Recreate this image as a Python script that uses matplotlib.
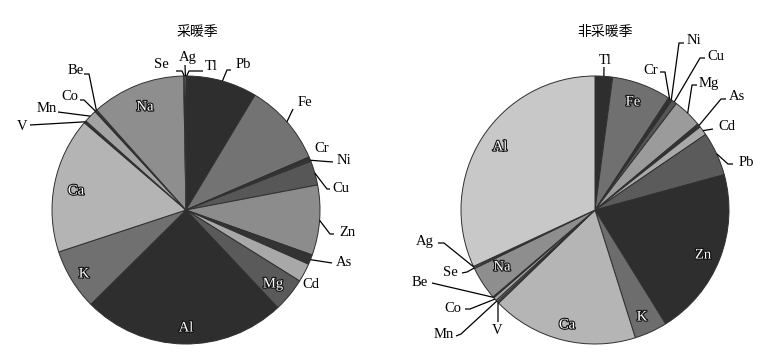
import matplotlib.pyplot as plt
import matplotlib.patheffects as pe
import numpy as np


# share of each element (%), listed clockwise from 12 o'clock
HEATING_ELEMENTS = ["Tl", "Pb", "Fe", "Cr", "Ni", "Cu", "Zn", "As", "Cd", "Mg",
                    "Al", "K", "Ca", "V", "Mn", "Co", "Be", "Na", "Se", "Ag"]
HEATING_SHARES = [0.14, 8.47, 9.92, 0.28, 0.28, 2.92, 8.44, 1.19, 2.25, 4.11,
                  24.58, 7.36, 16.36, 0.28, 1.56, 0.14, 0.14, 11.31, 0.14, 0.14]
HEATING_COLORS = ["#2e2e2e", "#2e2e2e", "#737373", "#333333", "#3a3a3a", "#575757",
                  "#8c8c8c", "#333333", "#a8a8a8", "#5a5a5a", "#2e2e2e", "#707070",
                  "#b4b4b4", "#333333", "#a3a3a3", "#555555", "#888888", "#8e8e8e",
                  "#cccccc", "#e0e0e0"]

NON_HEATING_ELEMENTS = ["Tl", "Fe", "Cr", "Ni", "Cu", "Mg", "As", "Cd", "Pb", "Zn",
                        "K", "Ca", "V", "Mn", "Co", "Be", "Na", "Se", "Ag", "Al"]
NON_HEATING_SHARES = [2.11, 7.14, 0.28, 0.22, 0.64, 3.53, 0.44, 1.11, 5.28, 20.42,
                      3.97, 17.64, 0.22, 0.22, 0.42, 0.14, 4.03, 0.14, 0.14, 31.92]
NON_HEATING_COLORS = ["#2e2e2e", "#707070", "#333333", "#2e2e2e", "#555555", "#9b9b9b",
                      "#333333", "#a9a9a9", "#5b5b5b", "#2e2e2e", "#6d6d6d", "#b5b5b5",
                      "#555555", "#777777", "#a3a3a3", "#333333", "#8e8e8e", "#d0d0d0",
                      "#e0e0e0", "#c8c8c8"]

TITLES = ["采暖季", "非采暖季"]

# layout, in pixels of the 773x361 canvas (origin top-left)
FIG_W, FIG_H = 773, 361
PIE_RADIUS = 134
HEATING_CENTER = (186, 210)
NON_HEATING_CENTER = (595, 210)
TITLE_POS = [(197, 32), (605, 32)]

HEATING_INNER = {"Na": (145, 107), "Ca": (76, 191), "K": (84, 274),
                 "Al": (186, 328), "Mg": (273, 284)}
HEATING_OUTER = {
    "Se": ((161, 65), [(176, 71), (182, 71)]),
    "Ag": ((188, 58), [(185, 65)]),
    "Tl": ((211, 67), [(203, 71), (189, 71)]),
    "Pb": ((243, 65), [(231, 70), (227, 70)]),
    "Fe": ((305, 102), [(293, 109)]),
    "Cr": ((322, 149), []),
    "Ni": ((344, 161), [(333, 162)]),
    "Cu": ((341, 188), [(330, 189), (327, 189)]),
    "Zn": ((347, 233), [(334, 234), (330, 234)]),
    "As": ((344, 263), [(332, 263)]),
    "Cd": ((311, 284), []),
    "V": ((22, 126), [(30, 125)]),
    "Mn": ((47, 109), [(58, 112)]),
    "Co": ((70, 96), [(80, 100), (84, 100)]),
    "Be": ((76, 71), [(84, 74), (89, 74)]),
}

NON_HEATING_INNER = {"Fe": (633, 102), "Al": (500, 147), "Zn": (703, 255),
                     "K": (642, 317), "Ca": (567, 325), "Na": (502, 267)}
NON_HEATING_OUTER = {
    "Tl": ((605, 60), [(604, 67)]),
    "Cr": ((651, 70), [(660, 72), (665, 72)]),
    "Ni": ((694, 41), [(684, 43), (679, 43)]),
    "Cu": ((716, 57), [(705, 58), (700, 58)]),
    "Mg": ((709, 83), [(697, 85), (692, 85)]),
    "As": ((737, 97), [(726, 99), (721, 99)]),
    "Cd": ((727, 127), [(713, 129)]),
    "Pb": ((746, 162), [(733, 164), (728, 164)]),
    "Ag": ((425, 242), [(438, 243), (444, 243)]),
    "Se": ((450, 272), [(462, 273), (467, 272)]),
    "Be": ((420, 283), [(432, 283)]),
    "Co": ((453, 308), [(465, 309), (470, 309)]),
    "Mn": ((444, 335), [(456, 336), (461, 334)]),
    "V": ((497, 331), [(498, 322)]),
}

SERIF = "Liberation Serif"
CJK = ["Noto Sans CJK SC", "DejaVu Sans"]


def up(py):
    return FIG_H - py


def mid_angles(shares):
    shares = np.asarray(shares, dtype=float)
    edges = np.concatenate([[0.0], np.cumsum(shares)]) / shares.sum() * 360.0
    return (edges[:-1] + edges[1:]) / 2


def draw_pie(ax, elements, shares, colors, center, inner, outer):
    cx, cy = center
    ax.pie(
        shares,
        colors=colors,
        startangle=90,
        counterclock=False,
        center=(cx, up(cy)),
        radius=PIE_RADIUS,
        wedgeprops=dict(edgecolor="#303030", linewidth=0.7),
    )

    angles = dict(zip(elements, np.radians(mid_angles(shares))))

    for name, (tx, ty) in inner.items():
        ax.text(tx, up(ty), name, ha="center", va="center", fontsize=10.5,
                family=SERIF, color="white",
                path_effects=[pe.withStroke(linewidth=1.6, foreground="#111111")])

    for name, ((tx, ty), path) in outer.items():
        ax.text(tx, up(ty), name, ha="center", va="center", fontsize=10.5,
                family=SERIF, color="black")
        if not path:
            continue
        theta = angles[name]
        anchor = (cx + PIE_RADIUS * np.sin(theta), up(cy) + PIE_RADIUS * np.cos(theta))
        xs = [p[0] for p in path] + [anchor[0]]
        ys = [up(p[1]) for p in path] + [anchor[1]]
        ax.plot(xs, ys, color="black", linewidth=0.9, solid_capstyle="butt")


def main() -> None:
    fig = plt.figure(figsize=(FIG_W / 100, FIG_H / 100), dpi=100)
    ax = fig.add_axes([0, 0, 1, 1])

    draw_pie(ax, HEATING_ELEMENTS, HEATING_SHARES, HEATING_COLORS,
             HEATING_CENTER, HEATING_INNER, HEATING_OUTER)
    draw_pie(ax, NON_HEATING_ELEMENTS, NON_HEATING_SHARES, NON_HEATING_COLORS,
             NON_HEATING_CENTER, NON_HEATING_INNER, NON_HEATING_OUTER)

    for title, (tx, ty) in zip(TITLES, TITLE_POS):
        ax.text(tx, up(ty), title, ha="center", va="center", fontsize=10,
                family=CJK, weight="medium", color="black")

    ax.set_xlim(0, FIG_W)
    ax.set_ylim(0, FIG_H)
    ax.set_aspect("equal")
    ax.axis("off")

    fig.savefig("out.png", dpi=100, facecolor="white")
    plt.close(fig)


if __name__ == "__main__":
    main()
